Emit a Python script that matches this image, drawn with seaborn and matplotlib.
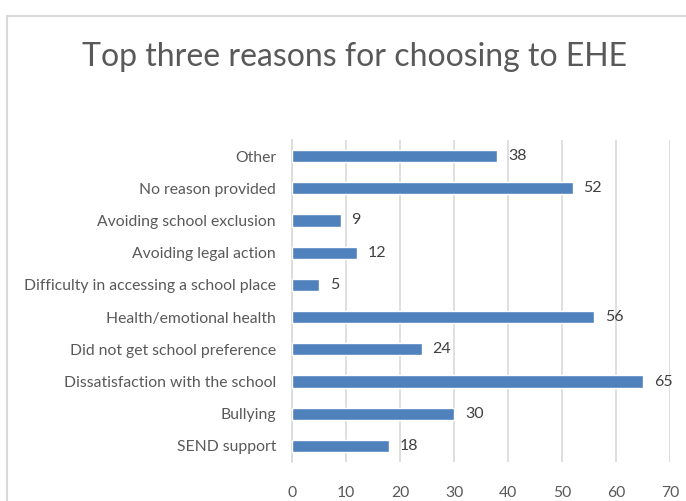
import matplotlib
matplotlib.use('Agg')
import matplotlib.pyplot as plt
import matplotlib.patches as mpatches
import seaborn as sns
import pandas as pd

# 데이터 (위에서 아래 순서)
reasons = ['Other', 'No reason provided', 'Avoiding school exclusion',
           'Avoiding legal action', 'Difficulty in accessing a school place',
           'Health/emotional health', 'Did not get school preference',
           'Dissatisfaction with the school', 'Bullying', 'SEND support']
counts = [38, 52, 9, 12, 5, 56, 24, 65, 30, 18]
xticks = [0, 10, 20, 30, 40, 50, 60, 70]

sns.set_style('white')
plt.rcParams['font.family'] = ['Lato', 'DejaVu Sans']

df = pd.DataFrame({'reason': reasons, 'count': counts})

fig = plt.figure(figsize=(6.86, 5.01), dpi=100)
ax = fig.add_axes([292 / 686, 1 - 462 / 501, (670 - 292) / 686, (462 - 140) / 501])

sns.barplot(data=df, x='count', y='reason', color='#4F81BD', saturation=1,
            width=0.38, ax=ax, zorder=3)

ax.set_xlim(0, 70)
ax.set_xticks(xticks)
ax.set_xlabel('')
ax.set_ylabel('')
ax.grid(axis='x', color='#D9D9D9', lw=1.2, zorder=0)
for s in ['top', 'right', 'bottom']:
    ax.spines[s].set_visible(False)
ax.spines['left'].set_color('#D9D9D9')
ax.spines['left'].set_linewidth(1.2)
ax.tick_params(axis='both', length=0, labelsize=11.3, colors='#595959')
ax.tick_params(axis='x', pad=17)
ax.tick_params(axis='y', pad=11.5)

for i, v in enumerate(counts):
    ax.text(v + 2, i, str(v), va='center', ha='left', fontsize=11.5, color='#404040')

fig.text(354 / 686, 1 - 57 / 501, 'Top three reasons for choosing to EHE',
         ha='center', va='center', fontsize=23, color='#595959')

# 차트 테두리
fig.patches.append(mpatches.Rectangle((7 / 686, -0.2), 1.2, 1 - 16 / 501 + 0.2,
                                      transform=fig.transFigure, fill=False,
                                      edgecolor='#D9D9D9', lw=1.5))

fig.savefig('out.png', dpi=100)
